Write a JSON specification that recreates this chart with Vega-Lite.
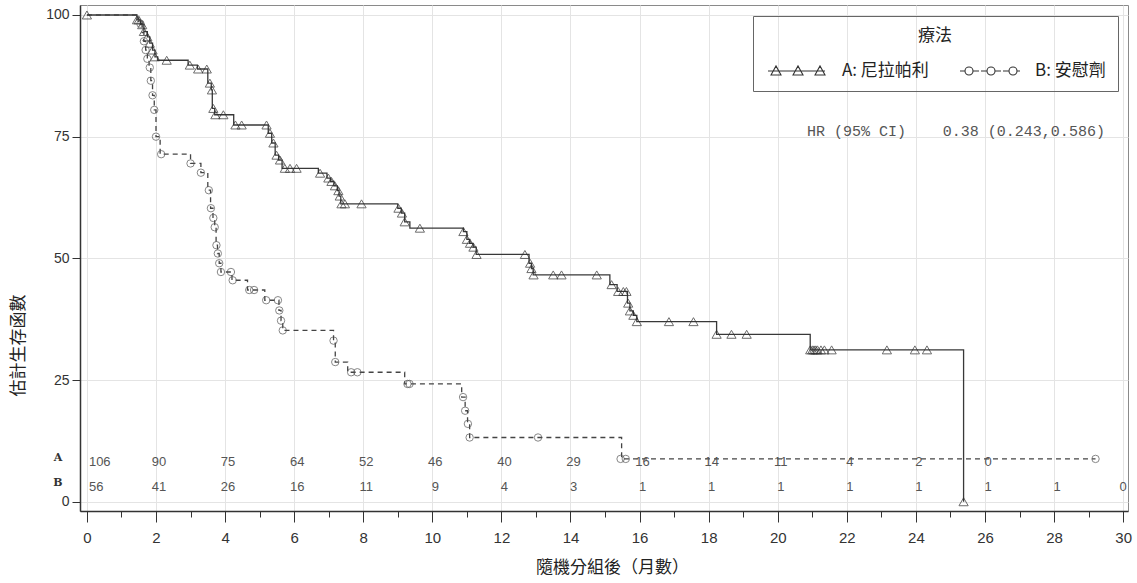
{
  "$schema": "https://vega.github.io/schema/vega-lite/v6.json",
  "width": 1048,
  "height": 506,
  "autosize": {"type": "none"},
  "padding": {"left": 80, "top": 5, "right": 9, "bottom": 72},
  "background": "white",
  "config": {
    "view": {"stroke": "#8a8a8a", "strokeWidth": 1},
    "axis": {
      "labelFont": "Liberation Sans",
      "titleFont": "Noto Sans CJK TC",
      "titleFontWeight": "normal",
      "titleFontSize": 17,
      "titleColor": "#222",
      "domainColor": "#333",
      "domainWidth": 1.5,
      "tickColor": "#333",
      "labelColor": "#333",
      "gridColor": "#e4e4e4"
    },
    "legend": {
      "orient": "none",
      "legendX": 673,
      "legendY": 11,
      "direction": "horizontal",
      "titleAnchor": "middle",
      "titleOrient": "top",
      "titleFont": "Noto Sans CJK TC",
      "titleFontSize": 17,
      "titleFontWeight": "normal",
      "titleColor": "#222",
      "titlePadding": 15,
      "labelFont": "Noto Sans CJK TC",
      "labelFontSize": 17,
      "labelColor": "#222",
      "strokeColor": "#666",
      "padding": 12,
      "columnPadding": 28,
      "symbolSize": 400,
      "symbolOffset": 0,
      "symbolOpacity": 1,
      "symbolStrokeWidth": 1.1,
      "symbolStrokeColor": "#333",
      "symbolFillColor": "transparent",
      "labelOffset": 55
    }
  },
  "datasets": {
    "steps": [
      {"g": "A: 尼拉帕利", "t": 0, "s": 100}, {"g": "A: 尼拉帕利", "t": 1.45, "s": 99}, {"g": "A: 尼拉帕利", "t": 1.55, "s": 98},
      {"g": "A: 尼拉帕利", "t": 1.65, "s": 96.6}, {"g": "A: 尼拉帕利", "t": 1.75, "s": 95.5}, {"g": "A: 尼拉帕利", "t": 1.82, "s": 94.2},
      {"g": "A: 尼拉帕利", "t": 1.9, "s": 92.8}, {"g": "A: 尼拉帕利", "t": 1.97, "s": 91.4}, {"g": "A: 尼拉帕利", "t": 2.05, "s": 90.7},
      {"g": "A: 尼拉帕利", "t": 2.93, "s": 89.7}, {"g": "A: 尼拉帕利", "t": 3.2, "s": 88.9}, {"g": "A: 尼拉帕利", "t": 3.5, "s": 86},
      {"g": "A: 尼拉帕利", "t": 3.6, "s": 84.6}, {"g": "A: 尼拉帕利", "t": 3.63, "s": 80.8}, {"g": "A: 尼拉帕利", "t": 3.7, "s": 79.5},
      {"g": "A: 尼拉帕利", "t": 4.25, "s": 77.4}, {"g": "A: 尼拉帕利", "t": 5.25, "s": 75.7}, {"g": "A: 尼拉帕利", "t": 5.35, "s": 73.7},
      {"g": "A: 尼拉帕利", "t": 5.45, "s": 71.2}, {"g": "A: 尼拉帕利", "t": 5.55, "s": 70.2}, {"g": "A: 尼拉帕利", "t": 5.65, "s": 68.5},
      {"g": "A: 尼拉帕利", "t": 6.7, "s": 67.5}, {"g": "A: 尼拉帕利", "t": 6.95, "s": 66.5}, {"g": "A: 尼拉帕利", "t": 7.05, "s": 65.8},
      {"g": "A: 尼拉帕利", "t": 7.15, "s": 64.9}, {"g": "A: 尼拉帕利", "t": 7.25, "s": 63.9}, {"g": "A: 尼拉帕利", "t": 7.3, "s": 62.8},
      {"g": "A: 尼拉帕利", "t": 7.35, "s": 61.2}, {"g": "A: 尼拉帕利", "t": 9.0, "s": 60.3}, {"g": "A: 尼拉帕利", "t": 9.1, "s": 59.3},
      {"g": "A: 尼拉帕利", "t": 9.2, "s": 57.5}, {"g": "A: 尼拉帕利", "t": 9.35, "s": 56.2}, {"g": "A: 尼拉帕利", "t": 10.9, "s": 55.5},
      {"g": "A: 尼拉帕利", "t": 11.0, "s": 53.9}, {"g": "A: 尼拉帕利", "t": 11.08, "s": 53.1}, {"g": "A: 尼拉帕利", "t": 11.18, "s": 52.3},
      {"g": "A: 尼拉帕利", "t": 11.27, "s": 50.8}, {"g": "A: 尼拉帕利", "t": 12.8, "s": 49}, {"g": "A: 尼拉帕利", "t": 12.87, "s": 47.9},
      {"g": "A: 尼拉帕利", "t": 12.92, "s": 46.6}, {"g": "A: 尼拉帕利", "t": 15.14, "s": 44.6}, {"g": "A: 尼拉帕利", "t": 15.35, "s": 43.2},
      {"g": "A: 尼拉帕利", "t": 15.65, "s": 40.8}, {"g": "A: 尼拉帕利", "t": 15.72, "s": 39.2}, {"g": "A: 尼拉帕利", "t": 15.82, "s": 38.3},
      {"g": "A: 尼拉帕利", "t": 15.92, "s": 37.0}, {"g": "A: 尼拉帕利", "t": 18.23, "s": 34.4}, {"g": "A: 尼拉帕利", "t": 20.94, "s": 31.2},
      {"g": "A: 尼拉帕利", "t": 25.38, "s": 0},
      {"g": "B: 安慰劑", "t": 0, "s": 100}, {"g": "B: 安慰劑", "t": 1.5, "s": 98.2}, {"g": "B: 安慰劑", "t": 1.6, "s": 96.4},
      {"g": "B: 安慰劑", "t": 1.65, "s": 94.6}, {"g": "B: 安慰劑", "t": 1.7, "s": 92.8}, {"g": "B: 安慰劑", "t": 1.75, "s": 91},
      {"g": "B: 安慰劑", "t": 1.8, "s": 89.2}, {"g": "B: 安慰劑", "t": 1.85, "s": 86.5}, {"g": "B: 安慰劑", "t": 1.9, "s": 83.5},
      {"g": "B: 安慰劑", "t": 1.95, "s": 80.5}, {"g": "B: 安慰劑", "t": 2.0, "s": 75}, {"g": "B: 安慰劑", "t": 2.12, "s": 71.4},
      {"g": "B: 安慰劑", "t": 3.0, "s": 69.5}, {"g": "B: 安慰劑", "t": 3.3, "s": 67.6}, {"g": "B: 安慰劑", "t": 3.5, "s": 64},
      {"g": "B: 安慰劑", "t": 3.58, "s": 60.3}, {"g": "B: 安慰劑", "t": 3.65, "s": 58.3}, {"g": "B: 安慰劑", "t": 3.7, "s": 56.4},
      {"g": "B: 安慰劑", "t": 3.74, "s": 52.7}, {"g": "B: 安慰劑", "t": 3.78, "s": 51}, {"g": "B: 安慰劑", "t": 3.83, "s": 49},
      {"g": "B: 安慰劑", "t": 3.88, "s": 47.2}, {"g": "B: 安慰劑", "t": 4.2, "s": 45.5}, {"g": "B: 安慰劑", "t": 4.65, "s": 43.5},
      {"g": "B: 安慰劑", "t": 5.15, "s": 41.4}, {"g": "B: 安慰劑", "t": 5.56, "s": 39.3}, {"g": "B: 安慰劑", "t": 5.62, "s": 37.2},
      {"g": "B: 安慰劑", "t": 5.67, "s": 35.2}, {"g": "B: 安慰劑", "t": 7.14, "s": 33.1}, {"g": "B: 安慰劑", "t": 7.19, "s": 28.7},
      {"g": "B: 安慰劑", "t": 7.55, "s": 26.6}, {"g": "B: 安慰劑", "t": 9.2, "s": 24.2}, {"g": "B: 安慰劑", "t": 10.85, "s": 21.5},
      {"g": "B: 安慰劑", "t": 10.95, "s": 18.7}, {"g": "B: 安慰劑", "t": 11.02, "s": 16}, {"g": "B: 安慰劑", "t": 11.08, "s": 13.2},
      {"g": "B: 安慰劑", "t": 15.48, "s": 8.8}, {"g": "B: 安慰劑", "t": 29.2, "s": 8.8}
    ],
    "censored": [
      {"g": "A: 尼拉帕利", "t": 0, "s": 100}, {"g": "A: 尼拉帕利", "t": 1.45, "s": 99}, {"g": "A: 尼拉帕利", "t": 1.5, "s": 99},
      {"g": "A: 尼拉帕利", "t": 1.6, "s": 98}, {"g": "A: 尼拉帕利", "t": 1.65, "s": 96.6}, {"g": "A: 尼拉帕利", "t": 1.75, "s": 95.5},
      {"g": "A: 尼拉帕利", "t": 1.82, "s": 94.2}, {"g": "A: 尼拉帕利", "t": 1.9, "s": 92.8}, {"g": "A: 尼拉帕利", "t": 1.97, "s": 91.4},
      {"g": "A: 尼拉帕利", "t": 2.31, "s": 90.7}, {"g": "A: 尼拉帕利", "t": 2.98, "s": 89.7}, {"g": "A: 尼拉帕利", "t": 3.22, "s": 88.9},
      {"g": "A: 尼拉帕利", "t": 3.47, "s": 88.9}, {"g": "A: 尼拉帕利", "t": 3.56, "s": 86}, {"g": "A: 尼拉帕利", "t": 3.62, "s": 84.6},
      {"g": "A: 尼拉帕利", "t": 3.66, "s": 80.8}, {"g": "A: 尼拉帕利", "t": 3.72, "s": 79.5}, {"g": "A: 尼拉帕利", "t": 3.95, "s": 79.5},
      {"g": "A: 尼拉帕利", "t": 4.3, "s": 77.4}, {"g": "A: 尼拉帕利", "t": 4.48, "s": 77.4}, {"g": "A: 尼拉帕利", "t": 5.2, "s": 77.4},
      {"g": "A: 尼拉帕利", "t": 5.3, "s": 75.7}, {"g": "A: 尼拉帕利", "t": 5.4, "s": 73.7}, {"g": "A: 尼拉帕利", "t": 5.49, "s": 71.2},
      {"g": "A: 尼拉帕利", "t": 5.59, "s": 70.2}, {"g": "A: 尼拉帕利", "t": 5.73, "s": 68.5}, {"g": "A: 尼拉帕利", "t": 5.88, "s": 68.5},
      {"g": "A: 尼拉帕利", "t": 6.07, "s": 68.5}, {"g": "A: 尼拉帕利", "t": 6.75, "s": 67.5}, {"g": "A: 尼拉帕利", "t": 6.99, "s": 66.5},
      {"g": "A: 尼拉帕利", "t": 7.08, "s": 65.8}, {"g": "A: 尼拉帕利", "t": 7.18, "s": 64.9}, {"g": "A: 尼拉帕利", "t": 7.28, "s": 63.9},
      {"g": "A: 尼拉帕利", "t": 7.32, "s": 62.8}, {"g": "A: 尼拉帕利", "t": 7.37, "s": 61.2}, {"g": "A: 尼拉帕利", "t": 7.47, "s": 61.2},
      {"g": "A: 尼拉帕利", "t": 7.95, "s": 61.2}, {"g": "A: 尼拉帕利", "t": 9.02, "s": 60.3}, {"g": "A: 尼拉帕利", "t": 9.12, "s": 59.3},
      {"g": "A: 尼拉帕利", "t": 9.2, "s": 57.5}, {"g": "A: 尼拉帕利", "t": 9.64, "s": 56.2}, {"g": "A: 尼拉帕利", "t": 10.9, "s": 55.5},
      {"g": "A: 尼拉帕利", "t": 11.0, "s": 53.9}, {"g": "A: 尼拉帕利", "t": 11.09, "s": 53.1}, {"g": "A: 尼拉帕利", "t": 11.19, "s": 52.3},
      {"g": "A: 尼拉帕利", "t": 11.28, "s": 50.8}, {"g": "A: 尼拉帕利", "t": 12.68, "s": 50.8}, {"g": "A: 尼拉帕利", "t": 12.83, "s": 49},
      {"g": "A: 尼拉帕利", "t": 12.87, "s": 47.9}, {"g": "A: 尼拉帕利", "t": 12.93, "s": 46.6}, {"g": "A: 尼拉帕利", "t": 13.5, "s": 46.6},
      {"g": "A: 尼拉帕利", "t": 13.74, "s": 46.6}, {"g": "A: 尼拉帕利", "t": 14.76, "s": 46.6}, {"g": "A: 尼拉帕利", "t": 15.19, "s": 44.6},
      {"g": "A: 尼拉帕利", "t": 15.38, "s": 43.2}, {"g": "A: 尼拉帕利", "t": 15.53, "s": 43.2}, {"g": "A: 尼拉帕利", "t": 15.62, "s": 43.2},
      {"g": "A: 尼拉帕利", "t": 15.67, "s": 40.8}, {"g": "A: 尼拉帕利", "t": 15.72, "s": 39.2}, {"g": "A: 尼拉帕利", "t": 15.82, "s": 38.3},
      {"g": "A: 尼拉帕利", "t": 15.92, "s": 37.0}, {"g": "A: 尼拉帕利", "t": 16.85, "s": 37.0}, {"g": "A: 尼拉帕利", "t": 17.56, "s": 37.0},
      {"g": "A: 尼拉帕利", "t": 18.23, "s": 34.4}, {"g": "A: 尼拉帕利", "t": 18.66, "s": 34.4}, {"g": "A: 尼拉帕利", "t": 19.1, "s": 34.4},
      {"g": "A: 尼拉帕利", "t": 20.94, "s": 31.2}, {"g": "A: 尼拉帕利", "t": 21.0, "s": 31.2}, {"g": "A: 尼拉帕利", "t": 21.05, "s": 31.2},
      {"g": "A: 尼拉帕利", "t": 21.1, "s": 31.2}, {"g": "A: 尼拉帕利", "t": 21.15, "s": 31.2}, {"g": "A: 尼拉帕利", "t": 21.25, "s": 31.2},
      {"g": "A: 尼拉帕利", "t": 21.35, "s": 31.2}, {"g": "A: 尼拉帕利", "t": 21.56, "s": 31.2}, {"g": "A: 尼拉帕利", "t": 23.16, "s": 31.2},
      {"g": "A: 尼拉帕利", "t": 23.97, "s": 31.2}, {"g": "A: 尼拉帕利", "t": 24.32, "s": 31.2}, {"g": "A: 尼拉帕利", "t": 25.38, "s": 0},
      {"g": "B: 安慰劑", "t": 1.55, "s": 98.2}, {"g": "B: 安慰劑", "t": 1.65, "s": 94.6}, {"g": "B: 安慰劑", "t": 1.7, "s": 92.8},
      {"g": "B: 安慰劑", "t": 1.75, "s": 91}, {"g": "B: 安慰劑", "t": 1.82, "s": 89.2}, {"g": "B: 安慰劑", "t": 1.85, "s": 86.5},
      {"g": "B: 安慰劑", "t": 1.9, "s": 83.5}, {"g": "B: 安慰劑", "t": 1.95, "s": 80.5}, {"g": "B: 安慰劑", "t": 2.0, "s": 75},
      {"g": "B: 安慰劑", "t": 2.15, "s": 71.4}, {"g": "B: 安慰劑", "t": 3.0, "s": 69.5}, {"g": "B: 安慰劑", "t": 3.3, "s": 67.6},
      {"g": "B: 安慰劑", "t": 3.53, "s": 64}, {"g": "B: 安慰劑", "t": 3.59, "s": 60.3}, {"g": "B: 安慰劑", "t": 3.66, "s": 58.3},
      {"g": "B: 安慰劑", "t": 3.7, "s": 56.4}, {"g": "B: 安慰劑", "t": 3.75, "s": 52.7}, {"g": "B: 安慰劑", "t": 3.79, "s": 51},
      {"g": "B: 安慰劑", "t": 3.83, "s": 49}, {"g": "B: 安慰劑", "t": 3.88, "s": 47.2}, {"g": "B: 安慰劑", "t": 4.17, "s": 47.2},
      {"g": "B: 安慰劑", "t": 4.22, "s": 45.5}, {"g": "B: 安慰劑", "t": 4.7, "s": 43.5}, {"g": "B: 安慰劑", "t": 4.84, "s": 43.5},
      {"g": "B: 安慰劑", "t": 5.19, "s": 41.4}, {"g": "B: 安慰劑", "t": 5.53, "s": 41.4}, {"g": "B: 安慰劑", "t": 5.57, "s": 39.3},
      {"g": "B: 安慰劑", "t": 5.62, "s": 37.2}, {"g": "B: 安慰劑", "t": 5.67, "s": 35.2}, {"g": "B: 安慰劑", "t": 7.14, "s": 33.1},
      {"g": "B: 安慰劑", "t": 7.19, "s": 28.7}, {"g": "B: 安慰劑", "t": 7.65, "s": 26.6}, {"g": "B: 安慰劑", "t": 7.83, "s": 26.6},
      {"g": "B: 安慰劑", "t": 9.28, "s": 24.2}, {"g": "B: 安慰劑", "t": 9.34, "s": 24.2}, {"g": "B: 安慰劑", "t": 10.89, "s": 21.5},
      {"g": "B: 安慰劑", "t": 10.95, "s": 18.7}, {"g": "B: 安慰劑", "t": 11.03, "s": 16}, {"g": "B: 安慰劑", "t": 11.08, "s": 13.2},
      {"g": "B: 安慰劑", "t": 13.06, "s": 13.2}, {"g": "B: 安慰劑", "t": 15.45, "s": 8.8}, {"g": "B: 安慰劑", "t": 15.6, "s": 8.8},
      {"g": "B: 安慰劑", "t": 29.2, "s": 8.8}
    ],
    "atrisk": [
      {"arm": "A", "t": 0, "n": 106}, {"arm": "A", "t": 2, "n": 90}, {"arm": "A", "t": 4, "n": 75}, {"arm": "A", "t": 6, "n": 64},
      {"arm": "A", "t": 8, "n": 52}, {"arm": "A", "t": 10, "n": 46}, {"arm": "A", "t": 12, "n": 40}, {"arm": "A", "t": 14, "n": 29},
      {"arm": "A", "t": 16, "n": 16}, {"arm": "A", "t": 18, "n": 14}, {"arm": "A", "t": 20, "n": 11}, {"arm": "A", "t": 22, "n": 4},
      {"arm": "A", "t": 24, "n": 2}, {"arm": "A", "t": 26, "n": 0},
      {"arm": "B", "t": 0, "n": 56}, {"arm": "B", "t": 2, "n": 41}, {"arm": "B", "t": 4, "n": 26}, {"arm": "B", "t": 6, "n": 16},
      {"arm": "B", "t": 8, "n": 11}, {"arm": "B", "t": 10, "n": 9}, {"arm": "B", "t": 12, "n": 4}, {"arm": "B", "t": 14, "n": 3},
      {"arm": "B", "t": 16, "n": 1}, {"arm": "B", "t": 18, "n": 1}, {"arm": "B", "t": 20, "n": 1}, {"arm": "B", "t": 22, "n": 1},
      {"arm": "B", "t": 24, "n": 1}, {"arm": "B", "t": 26, "n": 1}, {"arm": "B", "t": 28, "n": 1}, {"arm": "B", "t": 30, "n": 0}
    ],
    "one": [{}]
  },
  "resolve": {"axis": {"x": "independent"}},
  "layer": [
    {
      "data": {"name": "steps"},
      "transform": [{"filter": "datum.g === 'A: 尼拉帕利'"}],
      "mark": {"type": "line", "interpolate": "step-after", "strokeWidth": 1.3, "color": "#383838"},
      "encoding": {
        "x": {
          "field": "t", "type": "quantitative",
          "scale": {"domain": [-0.2, 30.14], "nice": false, "zero": false},
          "axis": {
            "orient": "bottom",
            "values": [0, 2, 4, 6, 8, 10, 12, 14, 16, 18, 20, 22, 24, 26, 28, 30],
            "grid": true, "tickSize": 11, "labelPadding": 8, "labelFontSize": 15,
            "title": "隨機分組後（月數）", "titleX": 532, "titleY": 56, "titleBaseline": "middle"
          }
        },
        "y": {
          "field": "s", "type": "quantitative",
          "scale": {"domain": [-1.9, 102.05], "nice": false, "zero": false},
          "axis": {"values": [0, 25, 50, 75, 100], "grid": true, "tickSize": 8, "labelPadding": 3, "labelFontSize": 14, "title": "估計生存函數", "titleX": -62, "titleY": 340, "titleBaseline": "middle"}
        }
      }
    },
    {
      "data": {"name": "steps"},
      "transform": [{"filter": "datum.g === 'B: 安慰劑'"}],
      "mark": {"type": "line", "interpolate": "step-after", "strokeWidth": 1.3, "color": "#444444", "strokeDash": [5, 4]},
      "encoding": {
        "x": {"field": "t", "type": "quantitative", "scale": {"domain": [-0.2, 30.14], "nice": false, "zero": false}, "axis": null},
        "y": {"field": "s", "type": "quantitative", "scale": {"domain": [-1.9, 102.05], "nice": false, "zero": false}, "axis": {"values": [0, 25, 50, 75, 100], "grid": true, "tickSize": 8, "labelPadding": 3, "labelFontSize": 14, "title": "估計生存函數", "titleX": -62, "titleY": 340, "titleBaseline": "middle"}}
      }
    },
    {
      "data": {"name": "censored"},
      "mark": {"type": "point", "filled": false, "opacity": 0, "color": "#333333"},
      "encoding": {
        "x": {"field": "t", "type": "quantitative", "scale": {"domain": [-0.2, 30.14], "nice": false, "zero": false}, "axis": null},
        "y": {"field": "s", "type": "quantitative", "scale": {"domain": [-1.9, 102.05], "nice": false, "zero": false}, "axis": {"values": [0, 25, 50, 75, 100], "grid": true, "tickSize": 8, "labelPadding": 3, "labelFontSize": 14, "title": "估計生存函數", "titleX": -62, "titleY": 340, "titleBaseline": "middle"}},
        "shape": {
          "field": "g", "type": "nominal",
          "scale": {
            "domain": ["A: 尼拉帕利", "B: 安慰劑"],
            "range": [
              "M-0.8,0H4.9M-0.5,0.4L0,-0.5L0.5,0.4ZM1.7,0.4L2.2,-0.5L2.7,0.4ZM3.9,0.4L4.4,-0.5L4.9,0.4Z",
              "M-0.9,0H-0.4M0.4,0H1.0M1.2,0H1.8M2.6,0H3.2M3.4,0H4.0M4.8,0H5.1M-0.4,0A0.4,0.4 0 1,0 0.4,0A0.4,0.4 0 1,0 -0.4,0ZM1.8,0A0.4,0.4 0 1,0 2.6,0A0.4,0.4 0 1,0 1.8,0ZM4.0,0A0.4,0.4 0 1,0 4.8,0A0.4,0.4 0 1,0 4.0,0Z"
            ]
          },
          "legend": {"title": "療法"}
        }
      }
    },
    {
      "data": {"name": "censored"},
      "transform": [{"filter": "datum.g === 'A: 尼拉帕利'"}],
      "mark": {"type": "point", "shape": "triangle-up", "filled": false, "strokeWidth": 1, "size": 85, "color": "#2e2e2e"},
      "encoding": {
        "x": {"field": "t", "type": "quantitative", "scale": {"domain": [-0.2, 30.14], "nice": false, "zero": false}, "axis": null},
        "y": {"field": "s", "type": "quantitative", "scale": {"domain": [-1.9, 102.05], "nice": false, "zero": false}, "axis": {"values": [0, 25, 50, 75, 100], "grid": true, "tickSize": 8, "labelPadding": 3, "labelFontSize": 14, "title": "估計生存函數", "titleX": -62, "titleY": 340, "titleBaseline": "middle"}}
      }
    },
    {
      "data": {"name": "censored"},
      "transform": [{"filter": "datum.g === 'B: 安慰劑'"}],
      "mark": {"type": "point", "shape": "circle", "filled": false, "strokeWidth": 1, "size": 55, "color": "#555555"},
      "encoding": {
        "x": {"field": "t", "type": "quantitative", "scale": {"domain": [-0.2, 30.14], "nice": false, "zero": false}, "axis": null},
        "y": {"field": "s", "type": "quantitative", "scale": {"domain": [-1.9, 102.05], "nice": false, "zero": false}, "axis": {"values": [0, 25, 50, 75, 100], "grid": true, "tickSize": 8, "labelPadding": 3, "labelFontSize": 14, "title": "估計生存函數", "titleX": -62, "titleY": 340, "titleBaseline": "middle"}}
      }
    },
    {
      "data": {"name": "atrisk"},
      "transform": [{"filter": "datum.arm === 'A'"}],
      "mark": {
        "type": "text", "font": "Liberation Sans", "fontSize": 13, "color": "#555",
        "baseline": "middle",
        "align": {"expr": "datum.t === 0 ? 'left' : 'center'"},
        "dx": {"expr": "datum.t === 0 ? 2 : 3"}
      },
      "encoding": {
        "x": {"field": "t", "type": "quantitative", "scale": {"domain": [-0.2, 30.14], "nice": false, "zero": false}, "axis": null},
        "y": {"datum": 8.2, "type": "quantitative", "scale": {"domain": [-1.9, 102.05], "nice": false, "zero": false}, "axis": {"values": [0, 25, 50, 75, 100], "grid": true, "tickSize": 8, "labelPadding": 3, "labelFontSize": 14, "title": "估計生存函數", "titleX": -62, "titleY": 340, "titleBaseline": "middle"}},
        "text": {"field": "n", "type": "quantitative"}
      }
    },
    {
      "data": {"name": "atrisk"},
      "transform": [{"filter": "datum.arm === 'B'"}],
      "mark": {
        "type": "text", "font": "Liberation Sans", "fontSize": 13, "color": "#555",
        "baseline": "middle",
        "align": {"expr": "datum.t === 0 ? 'left' : 'center'"},
        "dx": {"expr": "datum.t === 0 ? 2 : (datum.t === 30 ? 0 : 3)"}
      },
      "encoding": {
        "x": {
          "field": "t", "type": "quantitative",
          "scale": {"domain": [-0.2, 30.14], "nice": false, "zero": false},
          "axis": {
            "orient": "bottom",
            "values": [1, 3, 5, 7, 9, 11, 13, 15, 17, 19, 21, 23, 25, 27, 29],
            "labels": false, "domain": false, "grid": false, "tickSize": 6, "title": null
          }
        },
        "y": {"datum": 3.1, "type": "quantitative", "scale": {"domain": [-1.9, 102.05], "nice": false, "zero": false}, "axis": {"values": [0, 25, 50, 75, 100], "grid": true, "tickSize": 8, "labelPadding": 3, "labelFontSize": 14, "title": "估計生存函數", "titleX": -62, "titleY": 340, "titleBaseline": "middle"}},
        "text": {"field": "n", "type": "quantitative"}
      }
    },
    {
      "data": {"name": "one"},
      "mark": {"type": "text", "font": "DejaVu Serif", "fontWeight": "bold", "fontSize": 11, "color": "#333", "baseline": "middle", "align": "center"},
      "encoding": {
        "x": {"datum": -0.84, "type": "quantitative", "scale": {"domain": [-0.2, 30.14], "nice": false, "zero": false}, "axis": null},
        "y": {"datum": 8.9, "type": "quantitative", "scale": {"domain": [-1.9, 102.05], "nice": false, "zero": false}, "axis": {"values": [0, 25, 50, 75, 100], "grid": true, "tickSize": 8, "labelPadding": 3, "labelFontSize": 14, "title": "估計生存函數", "titleX": -62, "titleY": 340, "titleBaseline": "middle"}},
        "text": {"value": "A"}
      }
    },
    {
      "data": {"name": "one"},
      "mark": {"type": "text", "font": "DejaVu Serif", "fontWeight": "bold", "fontSize": 11, "color": "#333", "baseline": "middle", "align": "center"},
      "encoding": {
        "x": {"datum": -0.84, "type": "quantitative", "scale": {"domain": [-0.2, 30.14], "nice": false, "zero": false}, "axis": null},
        "y": {"datum": 3.8, "type": "quantitative", "scale": {"domain": [-1.9, 102.05], "nice": false, "zero": false}, "axis": {"values": [0, 25, 50, 75, 100], "grid": true, "tickSize": 8, "labelPadding": 3, "labelFontSize": 14, "title": "估計生存函數", "titleX": -62, "titleY": 340, "titleBaseline": "middle"}},
        "text": {"value": "B"}
      }
    },
    {
      "data": {"name": "one"},
      "mark": {"type": "text", "font": "Liberation Mono", "fontSize": 15, "color": "#555", "baseline": "middle", "align": "left"},
      "encoding": {
        "x": {"datum": 20.85, "type": "quantitative", "scale": {"domain": [-0.2, 30.14], "nice": false, "zero": false}, "axis": null},
        "y": {"datum": 76.2, "type": "quantitative", "scale": {"domain": [-1.9, 102.05], "nice": false, "zero": false}, "axis": {"values": [0, 25, 50, 75, 100], "grid": true, "tickSize": 8, "labelPadding": 3, "labelFontSize": 14, "title": "估計生存函數", "titleX": -62, "titleY": 340, "titleBaseline": "middle"}},
        "text": {"value": "HR (95% CI)"}
      }
    },
    {
      "data": {"name": "one"},
      "mark": {"type": "text", "font": "Liberation Mono", "fontSize": 15, "color": "#555", "baseline": "middle", "align": "left"},
      "encoding": {
        "x": {"datum": 24.78, "type": "quantitative", "scale": {"domain": [-0.2, 30.14], "nice": false, "zero": false}, "axis": null},
        "y": {"datum": 76.2, "type": "quantitative", "scale": {"domain": [-1.9, 102.05], "nice": false, "zero": false}, "axis": {"values": [0, 25, 50, 75, 100], "grid": true, "tickSize": 8, "labelPadding": 3, "labelFontSize": 14, "title": "估計生存函數", "titleX": -62, "titleY": 340, "titleBaseline": "middle"}},
        "text": {"value": "0.38 (0.243,0.586)"}
      }
    }
  ]
}
